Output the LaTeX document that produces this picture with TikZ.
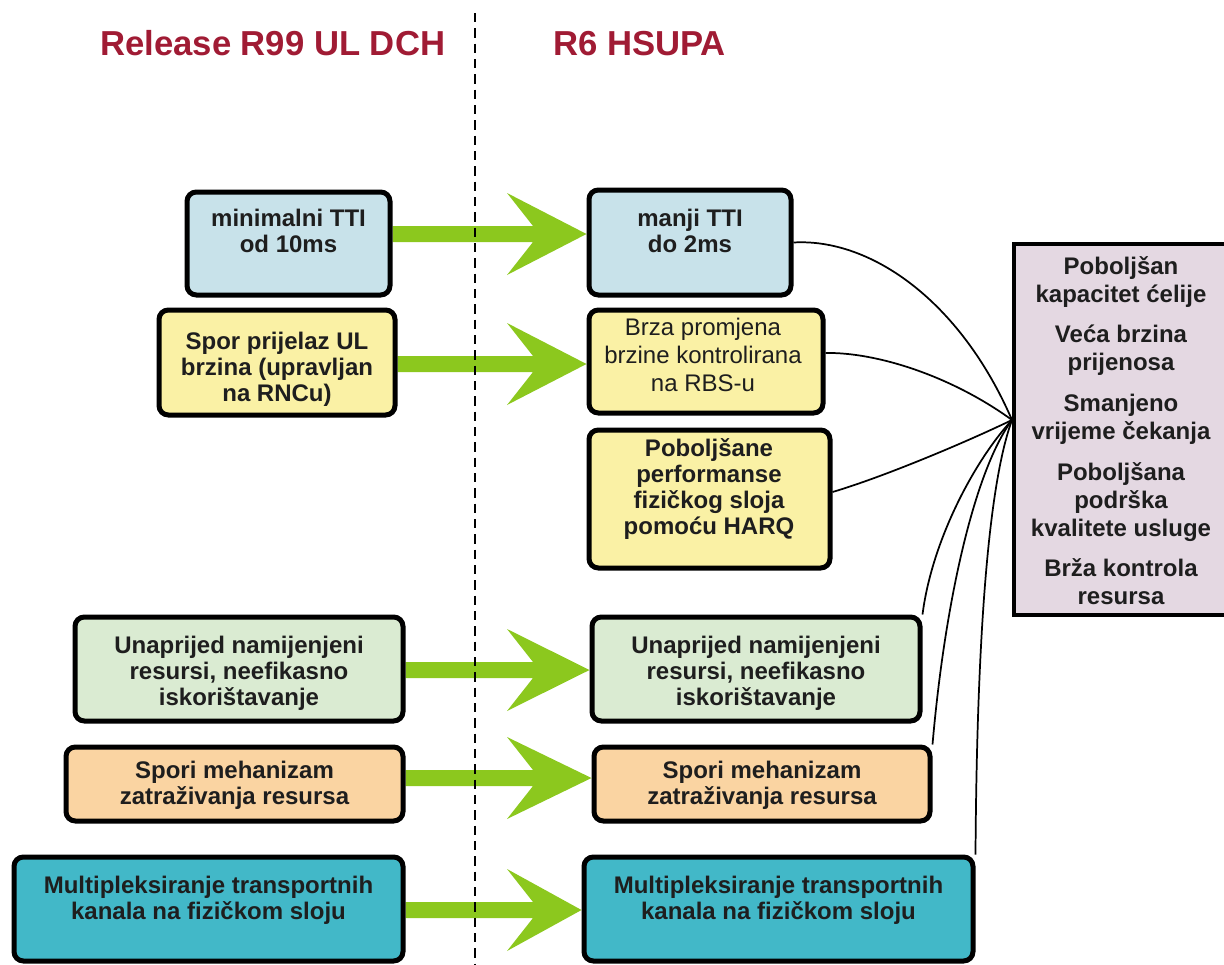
\documentclass[tikz,border=0pt]{standalone}
\usepackage{fontspec}
\setmainfont{Liberation Sans}
\usetikzlibrary{fit,calc}
\pgfdeclarelayer{background}
\pgfsetlayers{background,main}
\definecolor{cblue}{RGB}{200,226,234}
\definecolor{cyellow}{RGB}{250,241,165}
\definecolor{cgreen}{RGB}{218,235,210}
\definecolor{corange}{RGB}{250,212,162}
\definecolor{cteal}{RGB}{66,184,200}
\definecolor{cpurple}{RGB}{228,216,226}
\definecolor{arrowgreen}{RGB}{140,200,30}
\definecolor{titlered}{RGB}{160,27,52}
\definecolor{textdark}{RGB}{30,30,30}
\newcommand{\fatarrow}[3]{%
  \fill[fat] (#1.east |- 0,#3-8) -- (533,#3-8) -- (507,#3-41) -- (#2.west |- 0,#3)
    -- (507,#3+41) -- (533,#3+8) -- (#1.east |- 0,#3+8) -- cycle;}
\begin{document}
\begin{tikzpicture}[x=0.75pt,y=-0.75pt,
  box/.style={draw=black, line width=3.75pt, rounded corners=7pt, inner sep=0pt},
  resbox/.style={draw=black, line width=3pt, fill=cpurple, inner sep=0pt},
  txt/.style={anchor=north, inner sep=0pt, align=center, text=textdark,
    font=\fontsize{18}{19.5}\selectfont\bfseries},
  thintxt/.style={anchor=north, inner sep=0pt, align=center, text=textdark,
    font=\fontsize{18}{21}\selectfont},
  restxt/.style={anchor=north, inner sep=0pt, align=center, text=textdark,
    font=\fontsize{18}{21}\selectfont\bfseries},
  title/.style={anchor=base west, inner sep=0pt, text=titlered,
    font=\fontsize{26}{30}\selectfont\bfseries},
  link/.style={draw=black, line width=1.3pt},
  fat/.style={fill=arrowgreen},
  sep/.style={draw=black, line width=2.2pt, dash pattern=on 7pt off 4.5pt}
]
\useasboundingbox (0,0) rectangle (1224,964);
\clip (0,0) rectangle (1224,964);

% titles
\node[title] (t1) at (100,55) {Release R99 UL DCH};
\node[title] (t2) at (553,55) {R6 HSUPA};

% left column
\node[box, fill=cblue,   fit={(187,192) (390,295)}] (l1) {};
\node[box, fill=cyellow, fit={(159,310) (395,415)}] (l2) {};
\node[box, fill=cgreen,  fit={(75,617) (403,721)}]  (l3) {};
\node[box, fill=corange, fit={(66,747) (403,821)}]  (l4) {};
\node[box, fill=cteal,   fit={(14,857) (403,961)}]  (l5) {};

% right column
\node[box, fill=cblue,   fit={(589,190) (791,295)}] (r1) {};
\node[box, fill=cyellow, fit={(589,310) (823,413)}] (r2) {};
\node[box, fill=cyellow, fit={(589,430) (830,568)}] (r3) {};
\node[box, fill=cgreen,  fit={(592,617) (920,721)}] (r4) {};
\node[box, fill=corange, fit={(594,747) (930,821)}] (r5) {};
\node[box, fill=cteal,   fit={(584,857) (973,961)}] (r6) {};

% result box
\node[resbox, fit={(1014,244) (1234,615)}] (res) {};

% texts
\node[txt] (l1t) at (288.5,209) {minimalni TTI\\od 10ms};
\node[txt] (l2t) at (277,332) {Spor prijelaz UL\\brzina (upravljan\\na RNCu)};
\node[txt] (l3t) at (239,636) {Unaprijed namijenjeni\\resursi, neefikasno\\iskorištavanje};
\node[txt] (l4t) at (234.5,761) {Spori mehanizam\\zatraživanja resursa};
\node[txt] (l5t) at (208.5,876) {Multipleksiranje transportnih\\kanala na fizičkom sloju};
\node[txt] (r1t) at (690,209) {manji TTI\\do 2ms};
\node[thintxt] (r2t) at (703,318) {Brza promjena\\brzine kontrolirana\\na RBS-u};
\node[txt] (r3t) at (709,438) {Poboljšane\\performanse\\fizičkog sloja\\pomoću HARQ};
\node[txt] (r4t) at (756,636) {Unaprijed namijenjeni\\resursi, neefikasno\\iskorištavanje};
\node[txt] (r5t) at (762,761) {Spori mehanizam\\zatraživanja resursa};
\node[txt] (r6t) at (778.5,876) {Multipleksiranje transportnih\\kanala na fizičkom sloju};
\node[restxt] (rest) at (1121,256) {Poboljšan\\kapacitet ćelije\\[9.5pt]Veća brzina\\prijenosa\\[9.5pt]Smanjeno\\vrijeme čekanja\\[9.5pt]Poboljšana\\podrška\\kvalitete usluge\\[9.5pt]Brža kontrola\\resursa};

% convergence point
\coordinate (conv) at (res.west |- 0,420);

% connectors into result box
\draw[link] (r1.east) .. controls (870,238) and (960,300) .. (conv);
\draw[link] (r2.east |- 0,353) .. controls (875,352) and (950,375) .. (conv);
\draw[link] (r3.east |- 0,492) .. controls (880,478) and (960,445) .. (conv);
\draw[link] (r4.north east) .. controls (932,540) and (975,460) .. (conv);
\draw[link] (r5.north east) .. controls (945,600) and (975,470) .. (conv);
\draw[link] (r6.north east) .. controls (977,620) and (990,480) .. (conv);

% green arrows and separator beneath boxes
\begin{pgfonlayer}{background}
\fatarrow{l1}{r1}{234}
\fatarrow{l2}{r2}{364}
\fatarrow{l3}{r4}{670}
\fatarrow{l4}{r5}{778}
\fatarrow{l5}{r6}{910}
\coordinate (septop) at (475,13);
\coordinate (sepbot) at (475,964);
\draw[sep] (septop) -- (sepbot);
\end{pgfonlayer}
\end{tikzpicture}
\end{document}
